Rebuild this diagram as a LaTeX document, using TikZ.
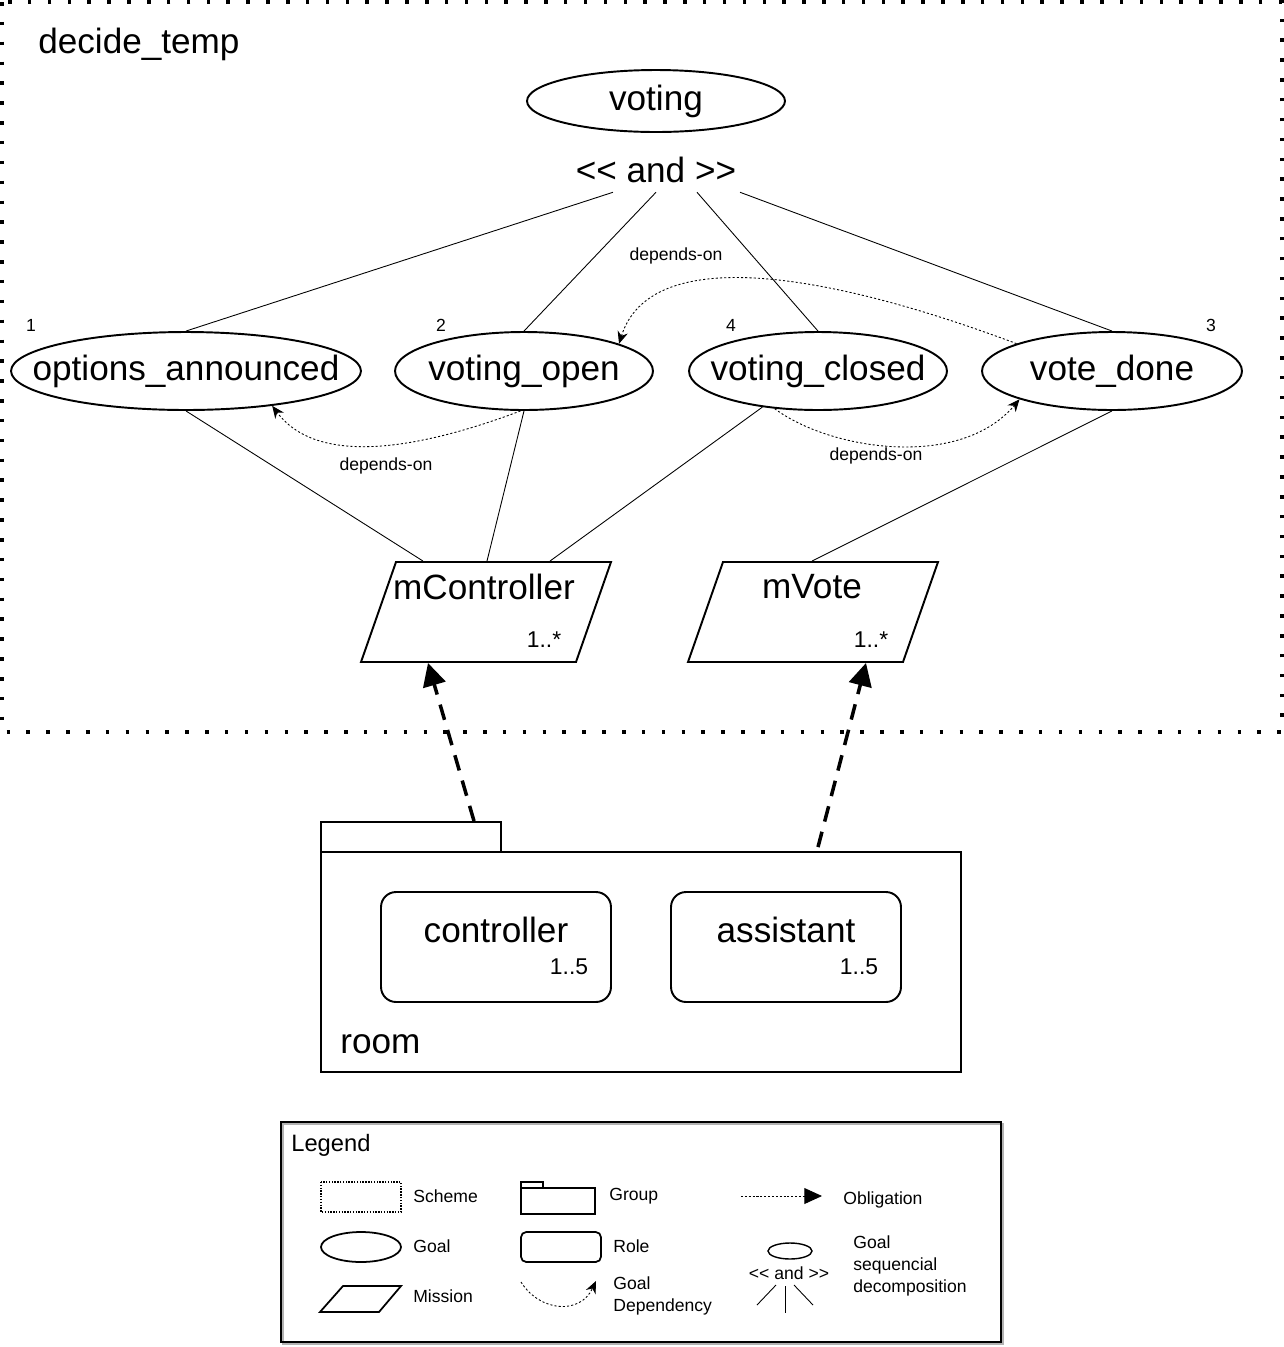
\documentclass[tikz,border=0pt]{standalone}
\usepackage{fontspec}
\setmainfont{Liberation Sans}
\usetikzlibrary{shapes,arrows.meta,positioning,calc}

\begin{document}
\begin{tikzpicture}[x=0.02cm,y=-0.02cm,
  big/.style={font=\fontsize{20}{24}\selectfont,inner sep=0pt},
  small/.style={font=\fontsize{10}{12.5}\selectfont,inner sep=0pt,align=left},
  card/.style={font=\fontsize{13}{15}\selectfont,inner sep=0pt},
  goal/.style={draw,ellipse,line width=1.1pt,inner sep=0pt,minimum height=1.56cm,font=\fontsize{20}{24}\selectfont},
  mission/.style={draw,trapezium,trapezium left angle=79,trapezium right angle=101,
    trapezium stretches=true,line width=1.1pt,inner sep=2pt,minimum width=5cm,minimum height=2cm},
  role/.style={draw,rounded corners=0.3cm,line width=1.1pt,minimum width=4.6cm,minimum height=2.2cm},
  dep/.style={line width=0.5pt,dash pattern=on 1.2pt off 1.2pt,-{Stealth[length=7pt,width=6pt]}},
  oblig/.style={line width=2pt,dash pattern=on 9pt off 6pt,-{Triangle[length=13pt,width=13pt]}},
  decomp/.style={line width=0.5pt}]
\useasboundingbox (0,0) rectangle (1284,1347);

% scheme
\draw[line width=2pt,dash pattern=on 2pt off 9.3pt] (2,2) rectangle (1282,732);
\node[big,anchor=west] (scheme) at (38,44) {decide\_temp};

% goals
\node[goal,minimum width=5.16cm,minimum height=1.24cm] (voting) at (656,101) {voting};
\node[big] (and) at (656,170) {<{}< and >{}>};
\node[goal,minimum width=7cm] (oa) at (186,371) {\makebox[0pt]{options\_announced}};
\node[goal,minimum width=5.16cm] (vo) at (524,371) {\makebox[0pt]{voting\_open}};
\node[goal,minimum width=5.16cm] (vc) at (818,371) {\makebox[0pt]{voting\_closed}};
\node[goal,minimum width=5.2cm] (vd) at (1112,371) {\makebox[0pt]{vote\_done}};
\node[small] (n1) at (31,325) {1};
\node[small] (n2) at (441,325) {2};
\node[small] (n4) at (731,325) {4};
\node[small] (n3) at (1211,325) {3};
\foreach\dx/\g in {-43/oa,0/vo,41/vc,84/vd}
\draw[decomp] ($(and.south)+(\dx,9)$) -- (\g.north);

% dependencies
\draw[dep] (vo.265) .. controls (430,445) and (320,470) .. (oa.-22);
\draw[dep] (vd.164) .. controls (820,270) and (650,245) .. (vo.16);
\draw[dep] (vc.221) .. controls (830,450) and (960,470) .. (vd.197);
\node[small] (dep1) at (386,466) {depends-on};
\node[small] (dep2) at (676,256) {depends-on};
\node[small] (dep3) at (876,456) {depends-on};

% missions
\node[mission] (mc) at (486,612) {};
\node[mission] (mv) at (813,612) {};
\node[big] (mctext) at (484,587) {mController};
\node[card] (mccard) at (544,640) {1..*};
\node[big] (mvtext) at (812,587) {mVote};
\node[card] (mvcard) at (871,640) {1..*};
\draw[decomp] (oa.south) -- ($(mc.north)+(-63,0)$);
\draw[decomp] (vo.south) -- ($(mc.north)+(1,0)$);
\draw[decomp] (vc.213) -- ($(mc.north)+(64,0)$);
\draw[decomp] (vd.south) -- ($(mv.north)+(-1,0)$);

% group
\node[draw,line width=1.1pt,minimum width=3.6cm,minimum height=0.6cm] (tab) at (411,837) {};
\node[draw,line width=1.1pt,minimum width=12.8cm,minimum height=4.4cm] (room) at (641,962) {};
\node[big,anchor=west] (roomtext) at (340,1044) {room};
\node[role] (ctrl) at (496,947) {};
\node[role] (asst) at (786,947) {};
\node[big] (ctrltext) at (496,930) {controller};
\node[card] (ctrlcard) at (569,967) {1..5};
\node[big] (assttext) at (786,930) {assistant};
\node[card] (asstcard) at (859,967) {1..5};

% obligations
\draw[oblig] ($(tab.north)+(63,0)$) -- ($(mc.south)+(-58,0)$);
\draw[oblig] ($(room.north)+(177,-4)$) -- ($(mv.south)+(53,0)$);

% legend
\draw[gray!60,line width=1.2pt] (283,1124) rectangle (1003,1344);
\draw[line width=1.2pt] (281,1122) rectangle (1001,1342);
\node[font=\fontsize{13.5}{16}\selectfont,inner sep=0pt,anchor=west] (legend) at (291,1145) {Legend};
\draw[line width=0.8pt,dash pattern=on 0.8pt off 0.8pt] (321,1182) rectangle (401,1212);
\draw[line width=1pt] (361,1247) ellipse (0.8cm and 0.3cm);
\draw[line width=1pt] (343,1286) -- (401,1286) -- (379,1312) -- (320,1312) -- cycle;
\draw[line width=0.8pt] (521,1182) rectangle (543,1188);
\draw[line width=0.8pt] (521,1188) rectangle (595,1214);
\draw[line width=1pt,rounded corners=3pt] (521,1232) rectangle (601,1262);
\coordinate (gd1) at (521,1282);
\coordinate (gd2) at (596,1281);
\draw[dep] (gd1) .. controls (540,1312) and (580,1315) .. (gd2);
\coordinate (ob1) at (741,1196);
\coordinate (ob2) at (822,1196);
\draw[line width=0.5pt,dash pattern=on 1.2pt off 1pt,-{Triangle[length=10pt,width=9pt]}] (ob1) -- (ob2);
\draw[line width=0.8pt] (790,1251) ellipse (0.44cm and 0.16cm);
\node[small] (lgand) at (789,1273) {<{}< and >{}>};
\draw[decomp] (757,1305) -- (776,1285);
\draw[decomp] (785,1286) -- (785,1313);
\draw[decomp] (794,1285) -- (813,1305);
\node[small,anchor=west] (lgscheme) at (413,1196) {Scheme};
\node[small,anchor=west] (lggoal) at (413,1246) {Goal};
\node[small,anchor=west] (lgmission) at (413,1296) {Mission};
\node[small,anchor=west] (lggroup) at (609,1196) {Group};
\node[small,anchor=west] (lgrole) at (613,1246) {Role};
\node[small,anchor=west] (lgdep) at (613,1296) {Goal\\Dependency};
\node[small,anchor=west] (lgoblig) at (843,1200) {Obligation};
\node[small,anchor=west] (lgseq) at (853,1266) {Goal\\sequencial\\decomposition};
\end{tikzpicture}
\end{document}
